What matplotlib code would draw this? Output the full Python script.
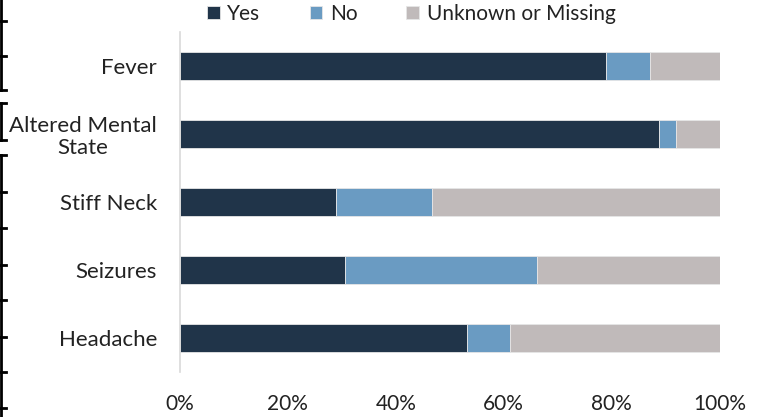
import matplotlib.pyplot as plt
from matplotlib.lines import Line2D

plt.rcParams['font.family'] = ['Lato', 'DejaVu Sans']

# symptom shares (%), top to bottom
sintomas = ["Fever", "Altered Mental\nState", "Stiff Neck", "Seizures", "Headache"]
sim = [78.9, 88.7, 28.9, 30.6, 53.2]
nao = [8.2, 3.3, 17.8, 35.5, 8.0]
desconhecido = [12.9, 8.0, 53.3, 33.9, 38.8]

series = [("Yes", sim, "#203449"), ("No", nao, "#6A9BC2"),
          ("Unknown or Missing", desconhecido, "#C0BABA")]

fig = plt.figure(figsize=(7.6, 4.17), dpi=100)
ax = fig.add_axes([180 / 760, 1 - 372 / 417, 539.5 / 760, 340 / 417])

y = list(range(len(sintomas)))
esquerda = [0] * len(sintomas)
for nome, vals, cor in series:
    ax.barh(y, vals, left=esquerda, height=0.4, color=cor, label=nome,
            edgecolor="#e6e6e6", linewidth=0.6)
    esquerda = [a + b for a, b in zip(esquerda, vals)]

ax.set_ylim(len(sintomas) - 0.5, -0.5)
ax.set_xlim(0, 100)
ax.set_yticks(y)
ax.set_yticklabels(sintomas, fontsize=16, color="#222222", ha="right",
                   multialignment="center", linespacing=1.15)
ax.tick_params(axis="y", length=0, pad=16.5)
ax.set_xticks(range(0, 101, 20))
ax.set_xticklabels([f"{v}%" for v in range(0, 101, 20)], fontsize=15, color="#222222")
ax.tick_params(axis="x", length=0, pad=16)

for lado in ["top", "right", "bottom"]:
    ax.spines[lado].set_visible(False)
ax.spines["left"].set_color("#d9d9d9")
ax.spines["left"].set_linewidth(1.2)

ax.legend(loc="lower left", bbox_to_anchor=(0.035, 1.0), ncol=3, frameon=False,
          fontsize=15, handlelength=0.62, handleheight=0.62, handletextpad=0.35,
          columnspacing=2.35, borderaxespad=0.0, labelcolor="#222222")

# border remnants on the left edge
def linha(xs, ys, **kw):
    fig.add_artist(Line2D([v / 760 for v in xs], [1 - v / 417 for v in ys],
                          color="black", linewidth=2, **kw))

linha([1, 1], [0, 90])
for yy in [21, 56, 90]:
    linha([0, 6], [yy, yy])
linha([1, 1], [103, 140])
for yy in [103, 140]:
    linha([0, 6], [yy, yy])
linha([1, 1], [155, 417])
for yy in [155, 192, 228, 265, 300, 337, 372, 408]:
    linha([0, 6], [yy, yy])

fig.savefig("out.png", dpi=100)
